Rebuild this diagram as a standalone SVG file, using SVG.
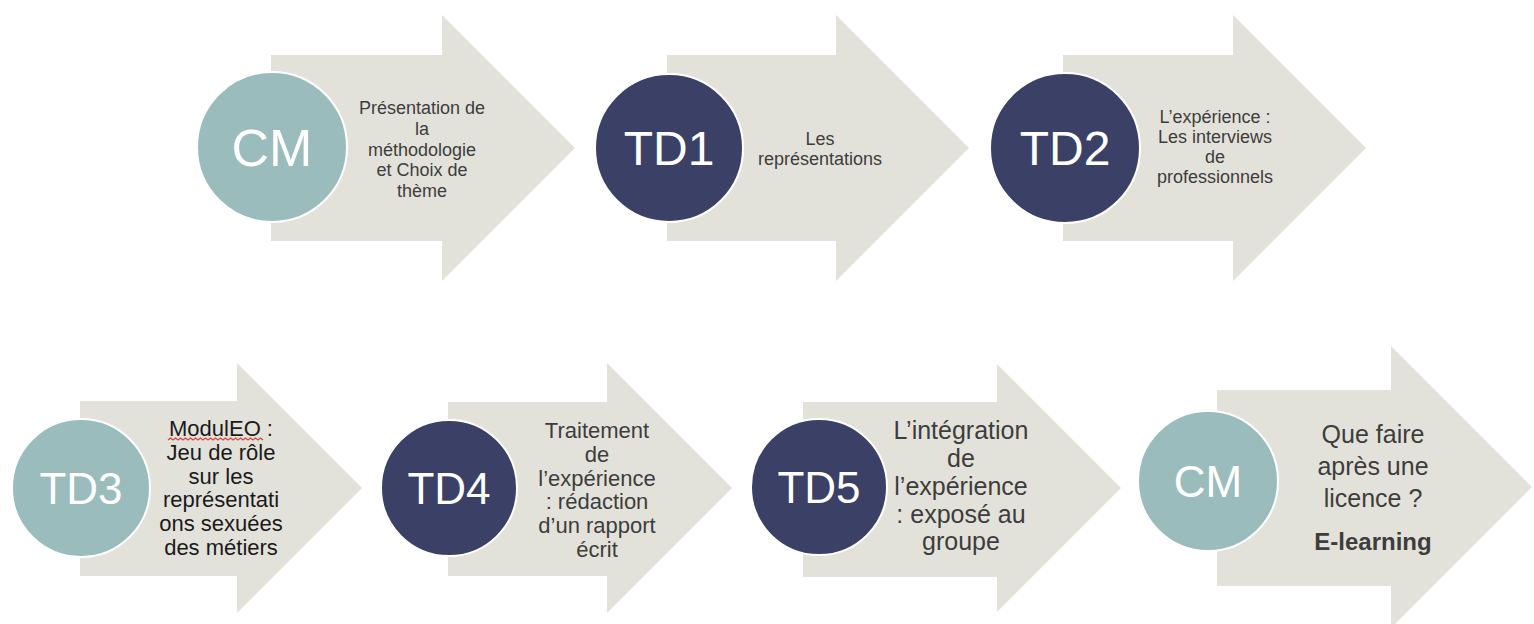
<svg xmlns="http://www.w3.org/2000/svg" width="1534" height="624" viewBox="0 0 1534 624">
<style>
.arrow{fill:#e3e2da}
.teal{fill:#9bbcbc;stroke:#ffffff;stroke-width:2}
.navy{fill:#3b4066;stroke:#ffffff;stroke-width:2}
.ctext{font-family:"Liberation Sans",Arial,sans-serif;fill:#ffffff;text-anchor:middle}
.lbl{font-family:"Liberation Sans",Arial,sans-serif;fill:#3d3d3d;text-anchor:middle}
.t18{font-size:18px}
.t22{font-size:22px}
.t25{font-size:25px}
</style>
<rect width="1534" height="624" fill="#ffffff"/>
<g id="connectors"></g>

<g id="node-cm1">
<path class="arrow" d="M271 55 H442 V15 L575 148 L442 281 V241 H271 Z"/>
<circle class="teal" cx="272" cy="147" r="75"/>
<text class="ctext" x="272" y="166" font-size="52">CM</text>
<text class="lbl t18" x="422" y="114">Présentation de</text>
<text class="lbl t18" x="422" y="135">la</text>
<text class="lbl t18" x="422" y="156">méthodologie</text>
<text class="lbl t18" x="422" y="176">et Choix de</text>
<text class="lbl t18" x="422" y="197">thème</text>
</g>

<g id="node-td1">
<path class="arrow" d="M667 55 H836 V15 L969 148 L836 281 V241 H667 Z"/>
<circle class="navy" cx="669" cy="148" r="74"/>
<text class="ctext" x="669" y="165" font-size="48">TD1</text>
<text class="lbl t18" x="820" y="145">Les</text>
<text class="lbl t18" x="820" y="165">représentations</text>
</g>

<g id="node-td2">
<path class="arrow" d="M1063 55 H1233 V15 L1366 148 L1233 281 V241 H1063 Z"/>
<circle class="navy" cx="1065" cy="148" r="75"/>
<text class="ctext" x="1065" y="165" font-size="48">TD2</text>
<text class="lbl t18" x="1215" y="123">L’expérience :</text>
<text class="lbl t18" x="1215" y="143">Les interviews</text>
<text class="lbl t18" x="1215" y="163">de</text>
<text class="lbl t18" x="1215" y="183">professionnels</text>
</g>

<g id="node-td3">
<path class="arrow" d="M80 401 H237 V363 L362 488 L237 613 V576 H80 Z"/>
<circle class="teal" cx="81" cy="488" r="69"/>
<text class="ctext" x="81" y="504" font-size="44">TD3</text>
<g class="lbl t22" style="fill:#1a1a1a">
<text x="221" y="436">ModulEO :</text>
<text x="221" y="460">Jeu de rôle</text>
<text x="221" y="484">sur les</text>
<text x="221" y="507">représentati</text>
<text x="221" y="531">ons sexuées</text>
<text x="221" y="555">des métiers</text>
</g>
<path d="M168 440 l2.5 -2 l2.5 2 l2.5 -2 l2.5 2 l2.5 -2 l2.5 2 l2.5 -2 l2.5 2 l2.5 -2 l2.5 2 l2.5 -2 l2.5 2 l2.5 -2 l2.5 2 l2.5 -2 l2.5 2 l2.5 -2 l2.5 2 l2.5 -2 l2.5 2 l2.5 -2 l2.5 2 l2.5 -2 l2.5 2 l2.5 -2 l2.5 2 l2.5 -2 l2.5 2 l2.5 -2 l2.5 2 l2.5 -2 l2.5 2 l2.5 -2 l2.5 2 l2.5 -2 l2.5 2 l2.5 -2 l2.5 2" fill="none" stroke="#e04040" stroke-width="1.2"/>
</g>

<g id="node-td4">
<path class="arrow" d="M448 402 H607 V363 L732 488 L607 613 V576 H448 Z"/>
<circle class="navy" cx="449" cy="488" r="68"/>
<text class="ctext" x="449" y="504" font-size="44">TD4</text>
<text class="lbl t22" x="597" y="438">Traitement</text>
<text class="lbl t22" x="597" y="462">de</text>
<text class="lbl t22" x="597" y="486">l’expérience</text>
<text class="lbl t22" x="597" y="509">: rédaction</text>
<text class="lbl t22" x="597" y="533">d’un rapport</text>
<text class="lbl t22" x="597" y="557">écrit</text>
</g>

<g id="node-td5">
<path class="arrow" d="M803 402 H997 V364 L1121 488 L997 612 V577 H803 Z"/>
<circle class="navy" cx="819" cy="487" r="68"/>
<text class="ctext" x="819" y="503" font-size="44">TD5</text>
<text class="lbl t25" x="961" y="439">L’intégration</text>
<text class="lbl t25" x="961" y="467">de</text>
<text class="lbl t25" x="961" y="495">l’expérience</text>
<text class="lbl t25" x="961" y="523">: exposé au</text>
<text class="lbl t25" x="961" y="550">groupe</text>
</g>

<g id="node-cm2">
<path class="arrow" d="M1217 390 H1391 V346 L1532 487 L1391 628 V586 H1217 Z"/>
<circle class="teal" cx="1208" cy="481" r="70"/>
<text class="ctext" x="1208" y="497" font-size="44">CM</text>
<text class="lbl t25" x="1373" y="443">Que faire</text>
<text class="lbl t25" x="1373" y="475">après une</text>
<text class="lbl t25" x="1373" y="507">licence ?</text>
<text class="lbl" x="1373" y="550" font-size="24" font-weight="bold">E-learning</text>
</g>
</svg>
